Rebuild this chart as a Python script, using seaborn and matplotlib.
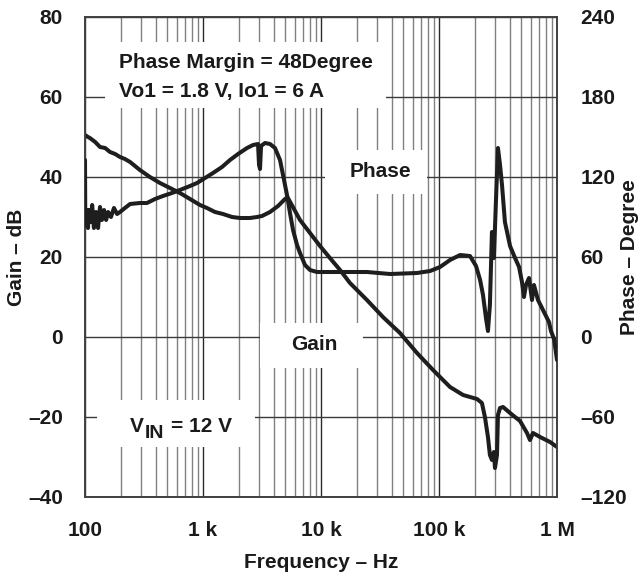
import numpy as np
import pandas as pd
import matplotlib
matplotlib.use("Agg")
import matplotlib.pyplot as plt
from matplotlib.patches import Rectangle
from matplotlib.ticker import FixedLocator, LogLocator, NullFormatter
import seaborn as sns

# ---------------- data ----------------
gain_freq = [100, 106, 110, 122, 134, 148, 163, 180, 198, 218, 241, 292, 355, 432, 525,
             638, 776, 943, 1080, 1264, 1477, 1762, 2059, 2502, 2870, 3162, 3696, 4324,
             4956, 5250, 6637, 8070, 9812, 11900, 14500, 17600, 24500, 33500, 46700,
             65100, 89000, 124000, 160000, 210000, 231000, 245000, 260000, 270000,
             281000, 292000, 298000, 310000, 316000, 329000, 349000, 400000, 486000,
             557000, 590000, 626000, 718000, 873000, 1000000]
gain_db = [50.5, 50.0, 49.75, 48.75, 47.5, 47.25, 46.25, 45.75, 45.0, 44.5, 43.75, 41.75,
           40.0, 38.5, 37.25, 36.0, 34.5, 33.0, 32.25, 31.25, 30.75, 30.0, 29.75, 29.75,
           30.0, 30.25, 31.25, 32.75, 34.5, 34.75, 29.25, 26.0, 22.75, 19.75, 16.75, 13.5,
           9.25, 5.0, 1.0, -4.0, -8.25, -12.5, -14.5, -15.5, -16.5, -20.0, -25.0, -29.5,
           -30.75, -28.75, -32.75, -29.5, -19.5, -17.75, -17.5, -19.0, -21.0, -24.0,
           -25.75, -24.0, -25.0, -26.25, -27.5]

phase_freq = [100, 100.5, 102, 104, 106, 108, 112, 115, 119, 124, 129, 134, 139, 145, 151,
              157, 166, 176, 187, 198, 218, 241, 292, 335, 392, 458, 546, 638, 776, 890,
              1040, 1216, 1449, 1694, 1982, 2361, 2655, 2926, 2985, 3043, 3103, 3353, 3696,
              4074, 4494, 4766, 5152, 5461, 5794, 6266, 6637, 7318, 8070, 9250, 11900,
              24500, 38500, 65100, 84000, 102000, 124000, 151000, 183000, 206000, 223000,
              236000, 250000, 260000, 270000, 281000, 292000, 304000, 316000, 329000,
              342000, 362000, 400000, 441000, 477000, 505000, 525000, 546000, 579000,
              614000, 638000, 690000, 791000, 855000, 889000, 944000, 1000000]
phase_deg = [132.75, 91.5, 84.0, 95.25, 81.75, 95.25, 86.25, 99.0, 81.75, 93.75, 81.75,
             97.5, 87.75, 95.25, 87.75, 93.75, 90.0, 96.75, 92.25, 93.75, 96.75, 99.75,
             100.5, 100.5, 103.5, 105.75, 108.0, 110.25, 113.25, 115.5, 119.25, 123.0,
             127.5, 132.75, 137.25, 141.75, 144.0, 144.75, 129.0, 126.0, 143.25, 145.5,
             144.75, 141.75, 132.75, 121.5, 106.5, 93.0, 80.25, 69.0, 63.0, 54.0, 50.25,
             48.75, 48.75, 48.75, 47.25, 48.0, 49.5, 52.5, 57.75, 61.5, 60.75, 53.25,
             42.75, 31.5, 14.25, 4.5, 24.0, 78.75, 59.25, 102.75, 141.75, 129.0, 114.0,
             86.25, 68.25, 59.25, 52.5, 41.25, 30.0, 39.0, 44.25, 27.75, 39.0, 27.75,
             17.25, 11.25, 4.5, -1.5, -17.25]

gain_ticks = [-40, -20, 0, 20, 40, 60, 80]
phase_ticks = [-120, -60, 0, 60, 120, 180, 240]
freq_ticks = [100, 1000, 10000, 100000, 1000000]
freq_labels = ["100", "1 k", "10 k", "100 k", "1 M"]

# ---------------- styling ----------------
sns.set_theme(style="white")
plt.rcParams["font.family"] = ["Liberation Sans", "DejaVu Sans"]
plt.rcParams["font.weight"] = "bold"

FS = 15
INK = "#1e1e1e"
TXT = "#1a1a1a"

fig = plt.figure(figsize=(6.44, 5.84), dpi=100)
ax = fig.add_axes([85 / 644, (584 - 497) / 584, 472 / 644, 480 / 584])
ax2 = ax.twinx()

gdf = pd.DataFrame({"freq": gain_freq, "val": gain_db})
pdf = pd.DataFrame({"freq": phase_freq, "val": phase_deg})

sns.lineplot(data=gdf, x="freq", y="val", ax=ax, sort=False, estimator=None,
             color=INK, linewidth=2.9, zorder=4)
sns.lineplot(data=pdf, x="freq", y="val", ax=ax2, sort=False, estimator=None,
             color=INK, linewidth=2.9, zorder=4)

for a in (ax, ax2):
    a.set_xscale("log")
    a.set_xlim(100, 1e6)
ax.set_ylim(-40, 80)
ax2.set_ylim(-120, 240)

# grid
ax.set_axisbelow(True)
ax.xaxis.set_major_locator(FixedLocator(freq_ticks))
ax.xaxis.set_minor_locator(LogLocator(base=10, subs=np.arange(2, 10)))
ax.xaxis.set_minor_formatter(NullFormatter())
ax.set_xticks(freq_ticks)
ax.set_xticklabels(freq_labels)
ax.grid(True, which="major", axis="x", color="#2a2a2a", linewidth=1.0)
ax.grid(True, which="minor", axis="x", color="#808080", linewidth=1.0)
ax.set_yticks(gain_ticks)
ax.set_yticklabels([str(v).replace("-", "\u2013") for v in gain_ticks])
ax.grid(True, which="major", axis="y", color="#3a3a3a", linewidth=1.0)
ax2.set_yticks(phase_ticks)
ax2.set_yticklabels([str(v).replace("-", "\u2013") for v in phase_ticks])
ax2.grid(False)

ax.tick_params(axis="x", which="both", length=0, pad=17, labelsize=FS, colors=TXT)
ax.tick_params(axis="y", length=0, pad=16, labelsize=FS, colors=TXT)
ax2.tick_params(axis="y", length=0, pad=17, labelsize=FS, colors=TXT)
for lab in ax.get_xticklabels() + ax.get_yticklabels() + ax2.get_yticklabels():
    lab.set_fontweight("bold")

for a in (ax, ax2):
    for s in a.spines.values():
        s.set_color("#404040")
        s.set_linewidth(1.2)

ax.set_xlabel("Frequency \u2013 Hz", fontsize=FS, fontweight="bold", labelpad=10, color=TXT)
ax.set_ylabel("Gain \u2013 dB", fontsize=FS, fontweight="bold", color=TXT)
ax2.set_ylabel("Phase \u2013 Degree", fontsize=FS, fontweight="bold", rotation=90, color=TXT)
ax.yaxis.set_label_coords((26 - 85) / 472, 0.5)
ax2.yaxis.set_label_coords((620 - 85) / 472, 0.5)

# white annotation boxes (in axes fraction coordinates)
boxes = [(0.0424, 0.8104, 0.5953, 0.1375),
         (0.5085, 0.6313, 0.2161, 0.0917),
         (0.3708, 0.2688, 0.2182, 0.0938),
         (0.0254, 0.1042, 0.3347, 0.0979)]
for (x0, y0, w, h) in boxes:
    ax.add_patch(Rectangle((x0, y0), w, h, transform=ax.transAxes,
                           facecolor="white", edgecolor="none", zorder=2))

tkw = dict(transform=ax.transAxes, fontweight="bold", color=TXT, zorder=3)
ax.text(0.072, 0.906, "Phase Margin = 48Degree", ha="left", va="center", fontsize=FS, **tkw)
ax.text(0.072, 0.844, "Vo1 = 1.8 V, Io1 = 6 A", ha="left", va="center", fontsize=FS, **tkw)
ax.text(0.625, 0.679, "Phase", ha="center", va="center", fontsize=FS, **tkw)
ax.text(0.485, 0.317, "Gain", ha="center", va="center", fontsize=FS, **tkw)
ax.text(0.0953, 0.1354, "V", ha="left", va="baseline", fontsize=FS, **tkw)
ax.text(0.1271, 0.1229, "IN", ha="left", va="baseline", fontsize=14, **tkw)
ax.text(0.1822, 0.1354, "= 12 V", ha="left", va="baseline", fontsize=FS, **tkw)

fig.savefig("out.png", dpi=100)
